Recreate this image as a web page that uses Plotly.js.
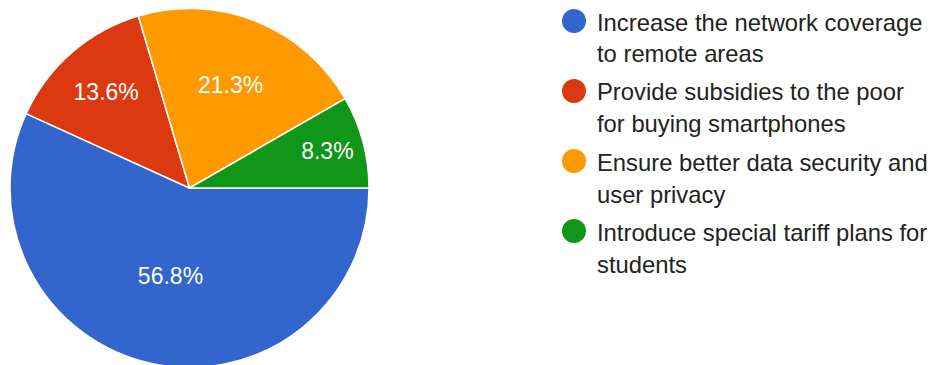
<!DOCTYPE html>
<html>
<head>
<meta charset="utf-8">
<script src="https://cdn.plot.ly/plotly-3.0.1.min.js"></script>
<style>
html,body{margin:0;padding:0;overflow:hidden;background:#fff;width:936px;height:365px;}
#chart{width:936px;height:376px;}
</style>
</head>
<body>
<div id="chart"></div>
<script>
// ---- data ----
const labels = [
  "Increase the network coverage<br>to remote areas",
  "Provide subsidies to the poor<br>for buying smartphones",
  "Ensure better data security and<br>user privacy",
  "Introduce special tariff plans for<br>students"
];
const values = [56.8, 13.6, 21.3, 8.3];
const colors = ["#3366cc", "#dc3912", "#ff9900", "#109618"];

// ---- layout constants ----
const W = 936, H = 376;
const FONT = "'Liberation Sans', Arial, sans-serif";

const pie = {
  type: "pie",
  labels: labels,
  values: values,
  sort: false,
  direction: "clockwise",
  rotation: 90,
  marker: {colors: colors, line: {color: "#ffffff", width: 1.5}},
  textinfo: "percent",
  texttemplate: "%{percent:.1%}",
  textposition: "inside",
  insidetextorientation: "horizontal",
  textfont: {family: FONT, size: 23, color: "#ffffff"},
  showlegend: false,
  hoverinfo: "none",
  domain: {x: [10/W, 369/W], y: [(H-367.5)/H, (H-8.5)/H]}
};

const annotations = [];
const shapes = [];
const entryTop = 21, entryGap = 70, lineGap = 32;
labels.forEach((lab, i) => {
  const yc = entryTop + i * entryGap;
  shapes.push({
    type: "circle", xref: "paper", yref: "paper",
    xsizemode: "pixel", ysizemode: "pixel",
    xanchor: 574/W, yanchor: 1 - yc/H,
    x0: -12, x1: 12, y0: -12, y1: 12,
    fillcolor: colors[i], line: {width: 0}
  });
  lab.split("<br>").forEach((line, j) => {
    annotations.push({
      xref: "paper", yref: "paper",
      x: 594.5/W, y: 1 - (yc + 1 + j*lineGap)/H,
      xanchor: "left", yanchor: "middle",
      text: line, showarrow: false,
      font: {family: FONT, size: 23.8, color: "#222222"}
    });
  });
});

const layout = {
  width: W, height: H,
  margin: {l: 0, r: 0, t: 0, b: 0},
  paper_bgcolor: "#ffffff",
  plot_bgcolor: "#ffffff",
  showlegend: false,
  annotations: annotations,
  shapes: shapes
};

Plotly.newPlot("chart", [pie], layout, {staticPlot: true, displayModeBar: false});
</script>
</body>
</html>
